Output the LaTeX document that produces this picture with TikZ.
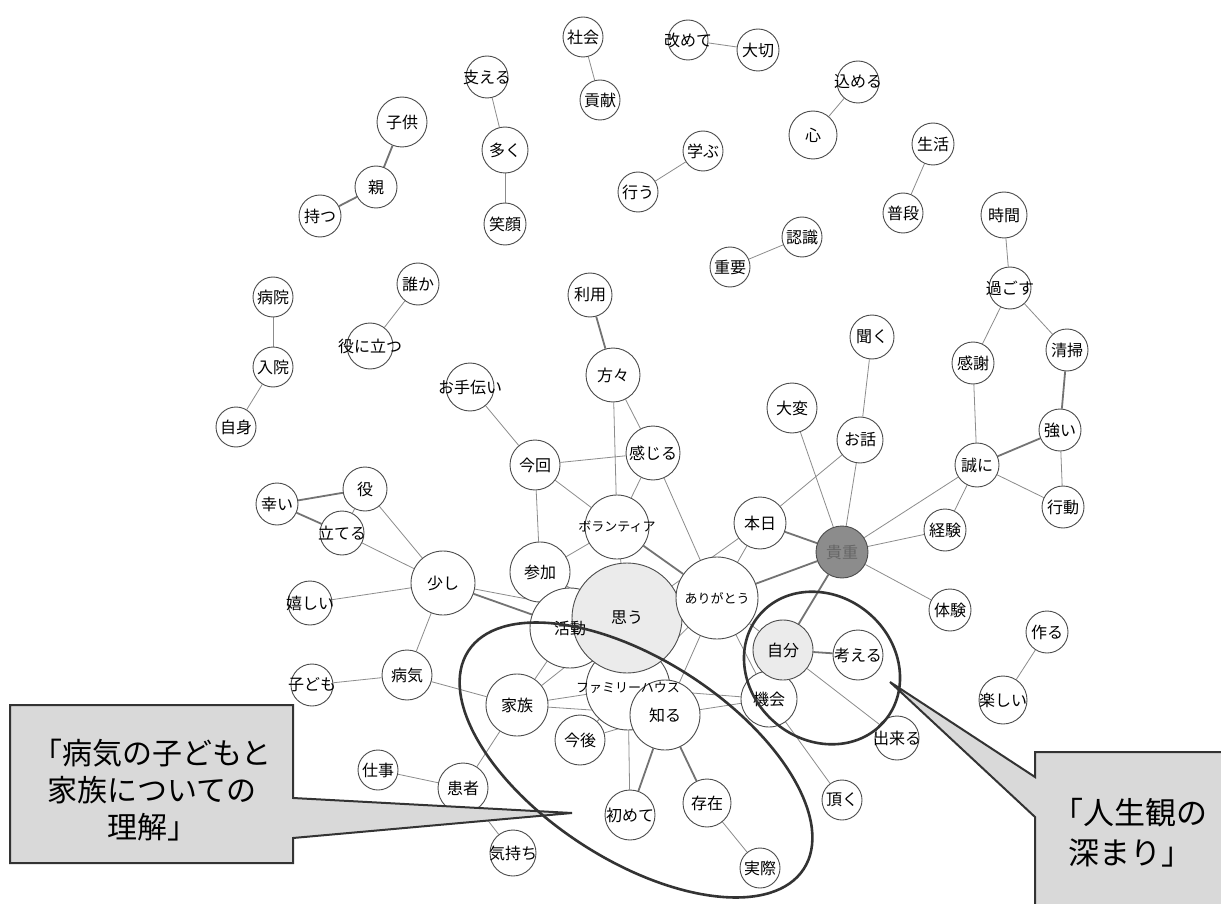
\documentclass[tikz,border=0pt]{standalone}
\usepackage{fontspec}
\newfontfamily\jpfont{Noto Sans CJK JP}
\usetikzlibrary{backgrounds}

\begin{document}
\begin{tikzpicture}[
        x=1pt, y=-1pt,
        word/.style={circle, draw=black!70, line width=0.9pt, fill=white, minimum size=2*#1, inner sep=0pt},
        hub/.style={word=#1, fill=black!8},
        key/.style={word=#1, fill=black!45},
        lbl/.style={inner sep=0pt, font=\jpfont\fontsize{16}{16}\selectfont},
        small/.style={inner sep=0pt, font=\jpfont\fontsize{13}{13}\selectfont},
        link/.style={draw=black!45, line width=0.8pt},
        strong/.style={draw=black!55, line width=1.8pt},
        ring/.style={draw=black!80, line width=2.6pt},
        callout/.style={fill=black!15, draw=black!80, line width=2pt},
        note/.style={align=center, inner sep=0pt, font=\jpfont\fontsize{30}{37}\selectfont}
    ]
        \useasboundingbox (0,0) rectangle (1221,904);

        % Words (top, small groups)
        \node[word=20pt] (shakai) at (583,37) {};
        \node[word=20pt] (kouken) at (600,100) {};
        \node[word=21pt] (sasaeru) at (487,77) {};
        \node[word=23pt] (ooku) at (505,150) {};
        \node[word=21pt] (egao) at (505,224) {};
        \node[word=25pt] (kodomoA) at (402,122) {};
        \node[word=21pt] (oya) at (376,187) {};
        \node[word=21pt] (motsu) at (320,216) {};
        \node[word=20pt] (aratamete) at (688,40) {};
        \node[word=21pt] (taisetsu) at (758,50) {};
        \node[word=24pt] (kokoro) at (813,135) {};
        \node[word=21pt] (komeru) at (858,82) {};
        \node[word=20pt] (manabu) at (703,151) {};
        \node[word=20pt] (okonau) at (638,192) {};
        \node[word=21pt] (seikatsu) at (933,144) {};
        \node[word=20pt] (fudan) at (903,213) {};
        \node[word=20pt] (ninshiki) at (802,237) {};
        \node[word=20pt] (juuyou) at (730,267) {};
        \node[word=23pt] (jikan) at (1004,215) {};
        \node[word=21pt] (sugosu) at (1010,288) {};
        \node[word=21pt] (dareka) at (418,284) {};
        \node[word=23pt] (yakunitatsu) at (370,346) {};
        \node[word=20pt] (byouin) at (273,297) {};
        \node[word=20pt] (nyuuin) at (273,367) {};
        \node[word=20pt] (jishin) at (236,427) {};

        % Words (right)
        \node[word=21pt] (kansha) at (973,363) {};
        \node[word=21pt] (seisou) at (1067,350) {};
        \node[word=21pt] (tsuyoi) at (1060,430) {};
        \node[word=21pt] (koudou) at (1063,507) {};
        \node[word=22pt] (makoto) at (977,465) {};
        \node[word=21pt] (keiken) at (945,530) {};
        \node[word=22pt] (kiku) at (872,337) {};
        \node[word=23pt] (ohanashi) at (860,440) {};
        \node[word=25pt] (taihen) at (792,408) {};
        \node[word=21pt] (taiken) at (950,610) {};
        \node[word=21pt] (tsukuru) at (1047,632) {};
        \node[word=24pt] (tanoshii) at (1003,700) {};
        \node[key=26pt] (kicho) at (842,552) {};

        % Words (centre)
        \node[word=22pt] (riyou) at (590,295) {};
        \node[word=27pt] (katagata) at (613,375) {};
        \node[word=24pt] (otetsudai) at (470,387) {};
        \node[word=25pt] (konkai) at (535,465) {};
        \node[word=27pt] (kanjiru) at (653,453) {};
        \node[word=26pt] (honjitsu) at (760,523) {};
        \node[word=32pt] (volunteer) at (617,527) {};
        \node[word=30pt] (sanka) at (540,572) {};
        \node[word=40pt] (katsudou) at (570,628) {};
        \node[word=42pt] (family) at (628,688) {};
        \node[hub=55pt] (omou) at (627,618) {};
        \node[word=41pt] (arigatou) at (717,598) {};
        \node[word=35pt] (shiru) at (665,715) {};
        \node[word=25pt] (kongo) at (580,740) {};
        \node[word=25pt] (hajimete) at (630,815) {};
        \node[word=24pt] (sonzai) at (707,803) {};
        \node[word=20pt] (jissai) at (760,868) {};
        \node[word=28pt] (kikai) at (769,699) {};
        \node[hub=30pt] (jibun) at (783,650) {};
        \node[word=25pt] (kangaeru) at (858,655) {};
        \node[word=22pt] (dekiru) at (897,738) {};
        \node[word=20pt] (itadaku) at (842,800) {};

        % Words (left)
        \node[word=32pt] (sukoshi) at (443,583) {};
        \node[word=22pt] (yaku) at (365,489) {};
        \node[word=21pt] (saiwai) at (277,504) {};
        \node[word=22pt] (tateru) at (342,533) {};
        \node[word=22pt] (ureshii) at (310,603) {};
        \node[word=25pt] (byouki) at (407,675) {};
        \node[word=21pt] (kodomoB) at (312,685) {};
        \node[word=31pt] (kazoku) at (517,705) {};
        \node[word=25pt] (kanja) at (463,788) {};
        \node[word=20pt] (shigoto) at (378,770) {};
        \node[word=23pt] (kimochi) at (513,853) {};

        % Labels
        \foreach \n/\t in {shakai/社会, kouken/貢献, sasaeru/支える, ooku/多く, egao/笑顔,
            kodomoA/子供, oya/親, motsu/持つ, aratamete/改めて, taisetsu/大切, kokoro/心,
            komeru/込める, manabu/学ぶ, okonau/行う, seikatsu/生活, fudan/普段, ninshiki/認識,
            juuyou/重要, jikan/時間, sugosu/過ごす, dareka/誰か, yakunitatsu/役に立つ,
            byouin/病院, nyuuin/入院, jishin/自身, kansha/感謝, seisou/清掃, tsuyoi/強い,
            koudou/行動, makoto/誠に, keiken/経験, kiku/聞く, ohanashi/お話, taihen/大変,
            taiken/体験, tsukuru/作る, tanoshii/楽しい, riyou/利用, katagata/方々,
            otetsudai/お手伝い, konkai/今回, kanjiru/感じる, honjitsu/本日, sanka/参加,
            katsudou/活動, omou/思う, shiru/知る, kongo/今後, hajimete/初めて, sonzai/存在,
            jissai/実際, kikai/機会, jibun/自分, kangaeru/考える, dekiru/出来る, itadaku/頂く,
            sukoshi/少し, yaku/役, saiwai/幸い, tateru/立てる, ureshii/嬉しい, byouki/病気,
            kodomoB/子ども, kazoku/家族, kanja/患者, shigoto/仕事, kimochi/気持ち}
            \node[lbl] (\n-t) at (\n) {\t};
        \foreach \n/\t in {volunteer/ボランティア, arigatou/ありがとう, family/ファミリーハウス}
            \node[small] (\n-t) at (\n) {\t};
        \node[lbl, text=black!60] (kicho-t) at (kicho) {貴重};

        % Links
        \begin{scope}[on background layer]
            \fill[white] (0,0) rectangle (1221,904);
            \foreach \a/\b in {shakai/kouken, sasaeru/ooku, ooku/egao, aratamete/taisetsu,
                kokoro/komeru, manabu/okonau, seikatsu/fudan, ninshiki/juuyou, jikan/sugosu,
                sugosu/kansha, sugosu/seisou, tsuyoi/koudou, makoto/koudou, makoto/kansha,
                makoto/keiken, makoto/kicho, kicho/keiken, kicho/taiken, kicho/ohanashi,
                kicho/taihen, kiku/ohanashi, ohanashi/honjitsu, honjitsu/arigatou, honjitsu/omou,
                katagata/kanjiru, katagata/volunteer, kanjiru/konkai, kanjiru/volunteer,
                kanjiru/arigatou, otetsudai/konkai, konkai/volunteer, konkai/sanka,
                volunteer/sanka, volunteer/omou, sanka/omou, sanka/katsudou, sukoshi/omou,
                sukoshi/yaku, sukoshi/tateru, sukoshi/ureshii, sukoshi/byouki, yaku/tateru,
                dareka/yakunitatsu, byouin/nyuuin, nyuuin/jishin, byouki/kodomoB, byouki/kazoku,
                kazoku/katsudou, kazoku/omou, kazoku/family, kazoku/shiru, kazoku/kanja,
                kanja/shigoto, kanja/kimochi, sonzai/jissai, shiru/kongo, shiru/omou,
                shiru/arigatou, shiru/kikai, hajimete/family, kongo/family, family/kikai,
                omou/arigatou, arigatou/family, arigatou/kikai, arigatou/jibun, jibun/kikai,
                jibun/dekiru, kikai/itadaku, tsukuru/tanoshii}
                \draw[link] (\a) -- (\b);
            \foreach \a/\b in {kodomoA/oya, oya/motsu, seisou/tsuyoi, tsuyoi/makoto,
                kicho/honjitsu, kicho/arigatou, kicho/jibun, riyou/katagata, volunteer/arigatou,
                sukoshi/katsudou, yaku/saiwai, saiwai/tateru, shiru/hajimete, shiru/sonzai,
                jibun/kangaeru}
                \draw[strong] (\a) -- (\b);
        \end{scope}

        % Callouts
        \filldraw[callout] (10,705) -- (293,705) -- (293,798) -- (572,813) -- (293,838)
            -- (293,863) -- (10,863) -- cycle;
        \filldraw[callout] (1035,752) -- (1226,752) -- (1226,910) -- (1035,910) -- (1035,817)
            -- (890,682) -- (1035,777) -- cycle;
        \node[note] (leftnote) at (152,790) {「病気の子どもと\\家族についての\\理解」};
        \node[note, font=\jpfont\fontsize{31}{40}\selectfont] (rightnote) at (1130,833) {「人生観の\\深まり」};

        % Rings
        \draw[ring, rotate around={-33:(636,760)}] (636,760) ellipse [x radius=200pt, y radius=100pt];
        \draw[ring, rotate around={-40:(822,668)}] (822,668) ellipse [x radius=82pt, y radius=72pt];
    \end{tikzpicture}
\end{document}
